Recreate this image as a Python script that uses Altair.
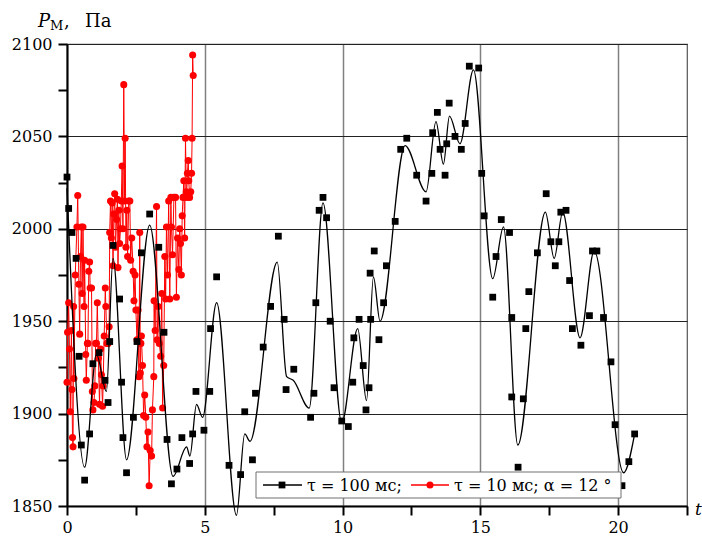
import altair as alt
import pandas as pd

# ---- data ----
# tau = 100 ms: measured points (squares)
black_t = [0.00, 0.06, 0.18, 0.33, 0.44, 0.52, 0.64, 0.82, 0.94, 1.16, 1.38, 1.49, 1.55, 1.67,
           1.91, 1.98, 2.03, 2.16, 2.41, 2.54, 2.70, 3.00, 3.33, 3.52, 3.63, 3.79, 3.99, 4.17,
           4.45, 4.56, 4.68, 4.97, 5.18, 5.21, 5.43, 5.88, 6.30, 6.45, 6.73, 6.84, 7.12, 7.39,
           7.67, 7.88, 7.95, 8.23, 8.84, 8.96, 9.03, 9.15, 9.29, 9.42, 9.55, 9.69, 9.97, 10.21,
           10.37, 10.41, 10.60, 10.75, 10.85, 10.96, 11.00, 11.02, 11.15, 11.32, 11.49, 11.59,
           11.91, 12.11, 12.33, 12.69, 13.03, 13.24, 13.27, 13.44, 13.54, 13.72, 13.78, 13.87,
           14.08, 14.31, 14.45, 14.60, 14.94, 15.05, 15.14, 15.45, 15.57, 15.76, 16.06, 16.14,
           16.14, 16.37, 16.56, 16.65, 16.76, 17.07, 17.39, 17.56, 17.72, 17.85, 17.92, 18.11,
           18.24, 18.34, 18.65, 18.96, 19.07, 19.23, 19.47, 19.74, 19.89, 20.14, 20.39, 20.60]
black_p = [2028, 2011, 1998, 1984, 1931, 1883, 1864, 1889, 1927, 1933, 1918, 1906, 1939, 1991,
           1962, 1917, 1887, 1868, 1898, 1939, 1987, 2008, 1990, 1944, 1886, 1862, 1870, 1887,
           1873, 1889, 1912, 1891, 1912, 1946, 1974, 1872, 1867, 1901, 1875, 1911, 1936, 1958,
           1996, 1951, 1913, 1924, 1898, 1911, 1960, 2010, 2017, 2006, 1950, 1914, 1896, 1893,
           1917, 1941, 1951, 1926, 1902, 1914, 1976, 1951, 1988, 1940, 1960, 1980,
           2004, 2043, 2049, 2029, 2015, 2030, 2052, 2063, 2043, 2029, 2046, 2068,
           2050, 2043, 2057, 2088, 2087, 2030, 2007, 1963, 1985, 2005, 1998, 1952,
           1909, 1871, 1908, 1946, 1966, 1987, 2019, 1993, 1980, 1993, 2009, 2010,
           1972, 1946, 1937, 1953, 1988, 1988, 1952, 1928, 1894, 1861, 1874, 1889]

# tau = 100 ms: smoothed curve, read at its extremes and shoulders
curve_t = [0.00, 0.64, 1.07, 1.43, 1.67, 2.16, 3.00, 3.85, 4.34, 4.46, 4.70, 4.92, 5.43, 6.15,
           6.45, 6.64, 7.63, 7.97, 8.21, 8.79, 9.29, 9.97, 10.55, 10.87, 11.12, 11.36, 12.27,
           13.03, 13.39, 13.66, 13.88, 14.26, 14.75, 15.45, 15.84, 16.36, 17.36, 17.68, 17.99,
           18.62, 19.13, 20.20, 20.60]
curve_p = [2022, 1871, 1932, 1912, 1984, 1875, 2002, 1866, 1882, 1877, 1905, 1898, 1960, 1845,
           1889, 1885, 1982, 1920, 1918, 1903, 2014, 1895, 1946, 1907, 1974, 1950, 2045,
           2020, 2058, 2035, 2061, 2046, 2086, 1973, 2001, 1883, 2009, 1984, 2009,
           1941, 1988, 1868, 1889]

# tau = 10 ms, alpha = 12 deg
red_t = [0.00, 0.02, 0.06, 0.09, 0.12, 0.16, 0.18, 0.20, 0.22, 0.24, 0.25, 0.30, 0.36, 0.39,
         0.43, 0.46, 0.49, 0.52, 0.55, 0.58, 0.62, 0.64, 0.68, 0.70, 0.74, 0.76, 0.79, 0.82,
         0.84, 0.89, 0.92, 0.94, 0.98, 1.01, 1.04, 1.07, 1.10, 1.14, 1.18, 1.22, 1.25, 1.29,
         1.31, 1.35, 1.39, 1.41, 1.45, 1.49, 1.53, 1.55, 1.58, 1.61, 1.64, 1.67, 1.70, 1.73,
         1.76, 1.80, 1.83, 1.85, 1.88, 1.91, 1.94, 1.97, 2.00, 2.03, 2.06, 2.09, 2.11, 2.14,
         2.17, 2.20, 2.24, 2.28, 2.31, 2.35, 2.40, 2.43, 2.47, 2.50, 2.54, 2.58, 2.61, 2.64,
         2.66, 2.68, 2.70, 2.74, 2.78, 2.82, 2.86, 2.90, 2.94, 2.98, 3.02, 3.07, 3.10, 3.15,
         3.16, 3.20, 3.25, 3.27, 3.31, 3.35, 3.40, 3.44, 3.47, 3.51, 3.55, 3.58, 3.61, 3.65,
         3.69, 3.73, 3.77, 3.79, 3.83, 3.88, 3.94, 3.97, 4.01, 4.06, 4.09, 4.12, 4.15, 4.18,
         4.21, 4.24, 4.27, 4.30, 4.33, 4.34, 4.37, 4.40, 4.42, 4.45, 4.49, 4.52, 4.54, 4.56,
         4.58]
red_p = [1917, 1944, 1960, 1935, 1901, 1945, 1913, 1887, 1882, 1958, 1919, 1975, 2001, 2018,
         1970, 1943, 1985, 2001, 1965, 2001, 1958, 1983, 1932, 1918, 1938, 1938, 1977, 1982,
         1968, 1968, 1912, 1902, 1906, 1915, 1938, 1938, 1960, 1930, 1905, 1935, 1921, 1904,
         1915, 1942, 1968, 1958, 1938, 1938, 1947, 1998, 2015, 1995, 2014, 1980, 2008, 2019,
         1990, 2005, 2016, 1979, 2010, 1992, 2000, 2015, 2034, 2000, 2078, 2015, 2049, 1990,
         2010, 1985, 2015, 2015, 1983, 1995, 1977, 1961, 1975, 1956, 1940, 1956, 1920, 1998,
         1922, 1938, 1942, 1926, 1899, 1910, 1898, 1882, 1890, 1861, 1880, 1877, 1902, 1920,
         1961, 1945, 2012, 1940, 1958, 1938, 1931, 1965, 1903, 1926, 1985, 1962, 2001, 1975,
         2015, 1962, 2017, 2001, 1986, 2017, 2017, 1963, 1995, 1978, 2000, 1992, 1975, 2007,
         2017, 2026, 1995, 2049, 2020, 2017, 2030, 2037, 2026, 2017, 2020, 2030, 2049, 2094,
         2083]

x_ticks = [0, 2.5, 5, 7.5, 10, 12.5, 15, 17.5, 20, 22.5]
y_ticks = [1850, 1875, 1900, 1925, 1950, 1975, 2000, 2025, 2050, 2075, 2100]
legend_labels = ["τ = 100 мс;", "τ = 10 мс; α = 12 °"]

black_df = pd.DataFrame({"t": black_t, "p": black_p})
curve_df = pd.DataFrame({"t": curve_t, "p": curve_p})
red_df = pd.DataFrame({"t": red_t, "p": red_p, "i": range(len(red_t))})

FONT = "DejaVu Serif"

x_enc = alt.X("t:Q", title=None,
              scale=alt.Scale(domain=[0, 22.5], nice=False, zero=False),
              axis=alt.Axis(values=x_ticks, labelExpr="datum.value % 5 == 0 && datum.value < 22 ? datum.label : ''",
                            gridColor="#808080", gridWidth=1.5,
                            gridOpacity={"condition": {"test": "datum.value % 5 != 0", "value": 0}, "value": 1},
                            labelPadding=4, labelFlush=False))
y_enc = alt.Y("p:Q", title=None,
              scale=alt.Scale(domain=[1850, 2100], nice=False, zero=False),
              axis=alt.Axis(values=y_ticks, format="d",
                            labelExpr="datum.value % 50 == 0 ? datum.label : ''",
                            gridColor="#222222", gridWidth=1,
                            gridOpacity={"condition": {"test": "datum.value % 50 != 0", "value": 0}, "value": 1},
                            labelPadding=6, labelFlush=False))

red_line = alt.Chart(red_df).mark_line(color="#ff0000", strokeWidth=1.0, clip=False).encode(
    x=x_enc, y=y_enc, order="i:Q")
red_pts = alt.Chart(red_df).mark_point(shape="circle", filled=True, size=50, color="#ff0000", opacity=1).encode(
    x=x_enc, y=y_enc)
curve = alt.Chart(curve_df).mark_line(color="black", strokeWidth=1.3, interpolate="monotone", clip=False).encode(
    x=x_enc, y=y_enc)
squares = alt.Chart(black_df).mark_point(shape="square", filled=True, size=46, color="black", opacity=1).encode(
    x=x_enc, y=y_enc)

one = pd.DataFrame({"a": [0]})
leg_box = alt.Chart(one).mark_rect(fill="white", stroke="#707070", strokeWidth=1).encode(
    x=alt.value(189), x2=alt.value(554), y=alt.value(428), y2=alt.value(454))
leg_l1 = alt.Chart(one).mark_rule(color="black", strokeWidth=1.3).encode(
    x=alt.value(196), x2=alt.value(235), y=alt.value(441))
leg_s1 = alt.Chart(one).mark_point(shape="square", filled=True, size=46, color="black", opacity=1).encode(
    x=alt.value(215), y=alt.value(441))
leg_t1 = alt.Chart(pd.DataFrame({"s": [legend_labels[0]]})).mark_text(
    font=FONT, fontSize=16, align="left", baseline="middle", color="black").encode(
    x=alt.value(240), y=alt.value(442), text="s:N")
leg_l2 = alt.Chart(one).mark_rule(color="#ff0000", strokeWidth=1.3).encode(
    x=alt.value(344), x2=alt.value(382), y=alt.value(441))
leg_s2 = alt.Chart(one).mark_point(shape="circle", filled=True, size=50, color="#ff0000", opacity=1).encode(
    x=alt.value(363), y=alt.value(441))
leg_t2 = alt.Chart(pd.DataFrame({"s": [legend_labels[1]]})).mark_text(
    font=FONT, fontSize=16, align="left", baseline="middle", color="black").encode(
    x=alt.value(387), y=alt.value(442), text="s:N")

def label(txt, x, y, size=18, style="normal"):
    return alt.Chart(pd.DataFrame({"s": [txt]})).mark_text(
        font=FONT, fontSize=size, fontStyle=style, align="left", baseline="alphabetic", color="black").encode(
        x=alt.value(x), y=alt.value(y), text="s:N")

title_layers = [
    label("P", -29, -17, 18, "italic"),
    label("М", -17, -14, 13),
    label(",", -3, -17, 18),
    label("Па", 18, -17, 18),
    label("t", 628, 471, 17, "italic"),
]

chart = alt.layer(red_line, red_pts, curve, squares,
                  leg_box, leg_l1, leg_s1, leg_t1, leg_l2, leg_s2, leg_t2,
                  *title_layers).properties(
    width=620, height=462,
    padding={"left": 67, "top": 44, "right": 15, "bottom": 37},
    autosize=alt.AutoSizeParams(type="none"),
    background="white",
).configure_view(stroke="#555555", strokeWidth=1.2).configure_axis(
    domainColor="black", domainWidth=2, tickColor="black", tickWidth=2, tickSize=9,
    labelFont=FONT, labelFontSize=16, labelColor="black",
)

chart.save("out.html", embed_options={"renderer": "svg", "actions": False})
